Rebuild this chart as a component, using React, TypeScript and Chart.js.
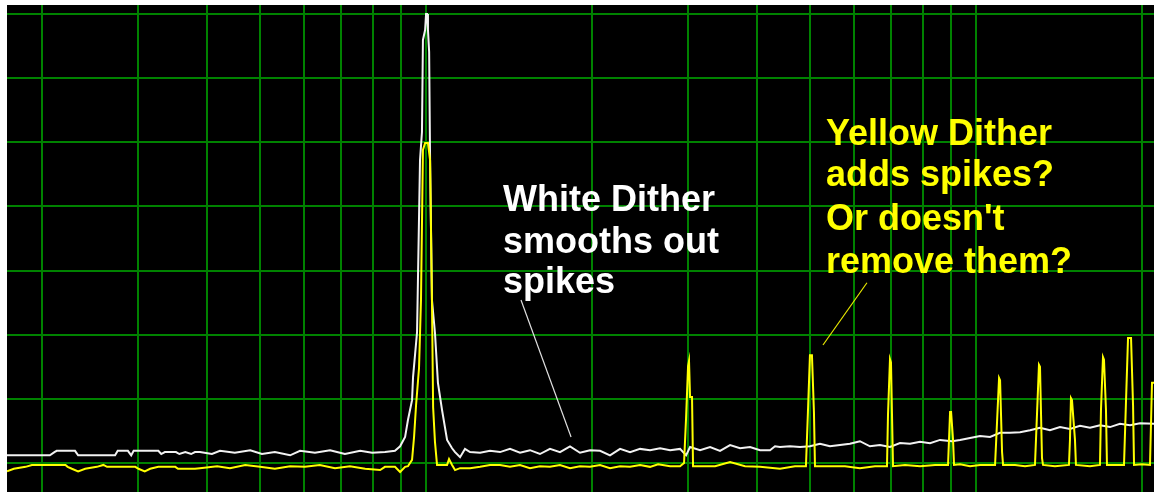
import { useEffect, useRef } from "react";
import { Chart, registerables } from "chart.js";

Chart.register(...registerables);

// Axis range (Hz, dB)
const freqMin = 173;
const freqMax = 21066;
const levelMin = -74.52;
const levelMax = 1.4;

// Grid positions
const gridFreqs = [200, 300, 400, 500, 600, 700, 800, 900, 1000, 2000, 3000, 4000, 5000, 6000, 7000, 8000, 9000, 10000, 20000];
const gridLevels = [0, -10, -20, -30, -40, -50, -60, -70];

// White dither spectrum
const whiteFreq = [
  173, 207, 211, 213, 230, 233, 272, 275, 287, 291, 294, 326, 330, 335, 351, 356, 365, 374, 380, 388,
  408, 422, 449, 479, 503, 531, 566, 590, 628, 669, 712, 759, 798, 842, 878, 897, 916, 927, 943, 947,
  963, 975, 983, 987, 996, 1000, 1004, 1008, 1013, 1017, 1025, 1038, 1051, 1069, 1092, 1115, 1129, 1153, 1177, 1202,
  1254, 1307, 1363, 1421, 1482, 1545, 1611, 1680, 1752, 1827, 1905, 1987, 2072, 2160, 2253, 2349, 2450, 2554, 2664, 2778,
  2896, 2970, 3020, 3149, 3284, 3424, 3571, 3723, 3882, 4048, 4221, 4310, 4401, 4589, 4786, 4989, 5203, 5425, 5657, 5898,
  6150, 6414, 6688, 6975, 7274, 7586, 7911, 8248, 8601, 9044, 9352, 9752, 10169, 10604, 11058, 11530, 12023, 12537, 13070, 13628,
  14211, 14818, 15453, 16113, 16802, 17520, 18270, 19055, 19870, 21100,
];
const whiteLevel = [
  -68.8, -68.8, -68.3, -68.1, -68.1, -68.8, -68.8, -68.1, -68.1, -68.8, -68.1, -68.1, -68.6, -68.3, -68.3, -68.6, -68.3, -68.6, -68.3, -68.3,
  -68.6, -68.1, -68.4, -68.0, -68.6, -68.3, -68.8, -68.1, -68.4, -68.0, -68.6, -68.1, -68.4, -68.3, -68.1, -67.4, -65.95, -63.3, -60.2, -56.6,
  -49.6, -22.8, -18.4, -4.05, -2.5, 0, 0, -2.5, -5.9, -22.8, -44.6, -49.7, -57.5, -61.7, -66.4, -67.7, -68.3, -69.1, -67.8, -68.3,
  -68.4, -68.1, -68.3, -67.8, -68.4, -68.0, -68.6, -67.8, -68.3, -67.4, -68.4, -68.0, -68.1, -68.8, -67.8, -68.3, -67.8, -68.0, -67.7, -68.0,
  -67.8, -68.8, -67.5, -68.0, -67.5, -68.1, -67.2, -67.7, -67.5, -68.0, -68.0, -67.4, -67.5, -67.4, -67.5, -67.4, -67.0, -67.4, -67.2, -67.0,
  -66.6, -67.4, -67.2, -67.5, -66.9, -67.0, -66.7, -66.9, -66.4, -66.6, -66.4, -66.1, -65.8, -65.95, -65.3, -65.3, -65.2, -64.9, -64.5, -64.9,
  -64.4, -64.7, -64.2, -64.5, -64.1, -64.4, -63.9, -64.1, -63.8, -63.9,
];

// Yellow dither spectrum
const yellowFreq = [
  173, 178, 187, 192, 221, 223, 227, 233, 240, 252, 259, 263, 296, 300, 308, 315, 326, 350, 354, 380,
  388, 417, 440, 469, 499, 531, 566, 602, 641, 683, 727, 775, 825, 842, 878, 897, 916, 927, 943, 951,
  959, 971, 979, 987, 996, 1008, 1017, 1025, 1030, 1038, 1047, 1092, 1101, 1115, 1129, 1153, 1202, 1254, 1307, 1363,
  1421, 1482, 1545, 1611, 1680, 1752, 1827, 1905, 1987, 2072, 2160, 2253, 2349, 2450, 2554, 2642, 2778, 2896, 2945, 2970,
  2995, 3007, 3020, 3045, 3058, 3149, 3354, 3571, 3802, 4048, 4401, 4686, 4906, 4947, 4989, 5031, 5073, 5095, 5425, 5777,
  6150, 6550, 6888, 6917, 6975, 7004, 7034, 7064, 7428, 7911, 8423, 8894, 8970, 9008, 9082, 9120, 9352, 9752, 10169, 10829,
  10919, 11012, 11058, 11151, 11198, 11774, 12278, 12799, 12906, 13015, 13070, 13180, 13236, 13917, 14756, 14818, 14880, 14943, 15132, 15194,
  16113, 16802, 16872, 17015, 17086, 17229, 17301, 17891, 18579, 18734, 18896, 19135, 19297, 19377, 20037, 20716, 20890, 21100,
];
const yellowLevel = [
  -71.3, -70.9, -70.6, -70.3, -70.3, -70.6, -70.9, -71.3, -70.9, -70.6, -70.3, -70.6, -70.6, -70.9, -71.3, -70.9, -70.6, -70.6, -70.9, -70.9,
  -70.8, -70.5, -70.8, -70.3, -70.6, -70.9, -70.5, -70.6, -70.3, -70.8, -70.5, -70.9, -71.1, -70.6, -70.6, -71.4, -70.6, -70.5, -69.5, -65.95,
  -61.0, -55.2, -44.6, -21.2, -20.1, -20.1, -22.8, -44.6, -61.3, -66.7, -70.3, -70.3, -69.4, -70.3, -71.1, -70.8, -70.8, -70.6, -70.3, -70.3,
  -70.6, -70.3, -70.8, -70.5, -70.6, -70.3, -70.8, -70.5, -70.6, -70.3, -70.8, -70.5, -70.6, -70.3, -70.6, -70.2, -70.5, -70.5, -70.0, -63.0,
  -54.9, -54.1, -59.7, -59.7, -70.5, -70.5, -70.5, -69.85, -70.5, -70.6, -70.9, -70.5, -70.5, -62.05, -53.2, -53.2, -62.05, -70.5, -70.5, -70.5,
  -70.8, -70.5, -70.5, -62.5, -53.8, -54.3, -62.5, -70.5, -70.3, -70.5, -70.3, -70.3, -62.05, -62.05, -66.4, -70.3, -70.2, -70.5, -70.3, -70.3,
  -63.6, -56.75, -57.1, -68.3, -70.3, -70.3, -70.5, -70.3, -62.5, -54.7, -55.0, -69.2, -70.3, -70.5, -70.3, -66.4, -59.9, -60.2, -66.4, -70.3,
  -70.5, -70.3, -61.7, -53.5, -53.9, -61.7, -70.3, -70.3, -70.3, -60.5, -50.5, -50.5, -61.0, -70.3, -70.2, -70.3, -57.5, -57.5,
];

// Pointer lines for the notes
const whitePointerFreq = [1488, 1835];
const whitePointerLevel = [-44.6, -65.95];
const yellowPointerFreq = [6334, 5269];
const yellowPointerLevel = [-41.9, -51.6];

// Notes
const whiteNoteLines = ["White Dither", "smooths out", "spikes"];
const whiteNoteLevels = [-30.7, -37.3, -43.5];
const whiteNoteFreq = 1380;
const yellowNoteLines = ["Yellow Dither", "adds spikes?", "Or doesn't", "remove them?"];
const yellowNoteLevels = [-20.4, -26.8, -33.7, -40.4];
const yellowNoteFreq = 5335;

const toPoints = (xs: number[], ys: number[]) => xs.map((x, i) => ({ x, y: ys[i] }));

const notesPlugin = {
  id: "notes",
  afterDatasetsDraw(chart: any) {
    const { ctx, scales } = chart;
    ctx.save();
    ctx.font = 'bold 36px "Liberation Sans", Arial, sans-serif';
    ctx.textAlign = "left";
    ctx.textBaseline = "alphabetic";
    ctx.fillStyle = "#ffffff";
    whiteNoteLines.forEach((t, i) => {
      ctx.fillText(t, scales.x.getPixelForValue(whiteNoteFreq), scales.y.getPixelForValue(whiteNoteLevels[i]));
    });
    ctx.fillStyle = "#ffff00";
    yellowNoteLines.forEach((t, i) => {
      ctx.fillText(t, scales.x.getPixelForValue(yellowNoteFreq), scales.y.getPixelForValue(yellowNoteLevels[i]));
    });
    ctx.restore();
  },
};

export default function App() {
  const ref = useRef<HTMLCanvasElement | null>(null);
  useEffect(() => {
    if (!ref.current) return;
    const chart = new Chart(ref.current, {
      type: "line",
      data: {
        datasets: [
          {
            data: toPoints(yellowPointerFreq, yellowPointerLevel),
            borderColor: "#e8e800",
            borderWidth: 1.2,
            pointRadius: 0,
          },
          {
            data: toPoints(whitePointerFreq, whitePointerLevel),
            borderColor: "#e0e0e0",
            borderWidth: 1.2,
            pointRadius: 0,
          },
          {
            data: toPoints(yellowFreq, yellowLevel),
            borderColor: "#ffff00",
            borderWidth: 2,
            pointRadius: 0,
          },
          {
            data: toPoints(whiteFreq, whiteLevel),
            borderColor: "#f2f2f2",
            borderWidth: 2,
            pointRadius: 0,
          },
        ],
      },
      options: {
        responsive: false,
        animation: false,
        devicePixelRatio: 1,
        layout: { padding: 0 },
        elements: { line: { tension: 0 }, point: { radius: 0 } },
        plugins: { legend: { display: false }, tooltip: { enabled: false } },
        scales: {
          x: {
            type: "logarithmic",
            min: freqMin,
            max: freqMax,
            afterBuildTicks: (s: any) => {
              s.ticks = gridFreqs.map((v) => ({ value: v }));
            },
            ticks: { display: false },
            grid: { color: "#008200", lineWidth: 2, drawTicks: false },
            border: { display: false },
          },
          y: {
            type: "linear",
            min: levelMin,
            max: levelMax,
            afterBuildTicks: (s: any) => {
              s.ticks = gridLevels.map((v) => ({ value: v }));
            },
            ticks: { display: false },
            grid: { color: "#008200", lineWidth: 2, drawTicks: false },
            border: { display: false },
          },
        },
      },
      plugins: [notesPlugin],
    });
    return () => chart.destroy();
  }, []);
  return (
    <canvas
      ref={ref}
      width={1147}
      height={487}
      style={{ position: "absolute", left: 7, top: 5, width: 1147, height: 487, background: "#000000" }}
    />
  );
}
